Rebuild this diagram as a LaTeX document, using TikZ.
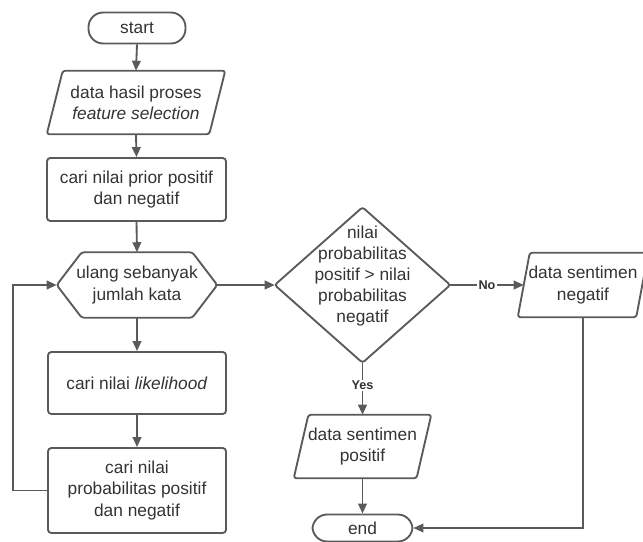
\documentclass[tikz,border=0pt]{standalone}
\usepackage{fontspec}
\setmainfont{Liberation Sans}
\usetikzlibrary{arrows.meta}
\definecolor{ln}{HTML}{5A5A5A}
\definecolor{tx}{HTML}{333333}
\newcommand\drawpara[2]{\draw[shp] ([xshift=#2]#1.north west) -- (#1.north east) -- ([xshift=-#2]#1.south east) -- (#1.south west) -- cycle;}
\newcommand\drawhex[2]{\draw[shp] (#1.west) -- ([xshift=#2]#1.north west) -- ([xshift=-#2]#1.north east) -- (#1.east) -- ([xshift=-#2]#1.south east) -- ([xshift=#2]#1.south west) -- cycle;}
\begin{document}
\begin{tikzpicture}[x=0.75pt,y=-0.75pt,
  every node/.style={font=\fontsize{13}{15.8}\selectfont, text=tx, align=center, inner sep=0pt},
  area/.style 2 args={minimum width={#1*0.75pt}, minimum height={#2*0.75pt}},
  shp/.style={draw=ln, line width=1.4pt, rounded corners=2pt},
  proc/.style={draw=ln, line width=1.4pt, rounded corners=2.5pt},
  term/.style={draw=ln, line width=1.4pt, rounded corners=11pt},
  arr/.style={draw=ln, line width=1.4pt, -{Triangle[length=7.5pt,width=6.5pt]}},
  lbl/.style={font=\fontsize{9.5}{10}\selectfont\bfseries, fill=white, inner sep=1pt}]
\useasboundingbox (0,0) rectangle (643,542);
% nodes
\node[term, area={97}{31}] (start) at (137,28) {start};
\node[area={178}{63}] (data) at (136,102.5) {data hasil proses\\\textit{feature selection}};
\node[proc, area={179}{63}] (prior) at (136.5,189.5) {cari nilai prior positif\\dan negatif};
\node[area={160}{65}] (hex) at (137,285) {ulang sebanyak\\jumlah kata};
\node[proc, area={178}{62}] (like) at (137,383) {cari nilai \textit{likelihood}};
\node[proc, area={178}{85}] (prob) at (137,490.5) {cari nilai\\probabilitas positif\\dan negatif};
\node[area={175}{155}] (dec) at (362.5,285) {};
\node (dectext) at (362.5,276) {nilai\\probabilitas\\positif > nilai\\probabilitas\\negatif};
\node[area={130}{64}] (neg) at (583,285) {data sentimen\\negatif};
\node[area={137}{63}] (pos) at (362.5,446.5) {data sentimen\\positif};
\node[term, area={100}{27}] (end) at (362.5,528) {end};
% outlines
\drawpara{data}{12pt}
\drawhex{hex}{18.75pt}
\draw[shp] (dec.west) -- (dec.north) -- (dec.east) -- (dec.south) -- cycle;
\drawpara{neg}{9pt}
\drawpara{pos}{11pt}
% connectors
\draw[arr] (start.south) -- (data.north);
\draw[arr] (data.south) -- (prior.north);
\draw[arr] (prior.south) -- (hex.north);
\draw[arr] (hex.south) -- (like.north);
\draw[arr] (like.south) -- (prob.north);
\draw[arr] (prob.west) -- ++(-34,0) |- (hex.west);
\draw[arr] (hex.east) -- (dec.west);
\draw[arr] (dec.east) -- node[lbl] {No} ([xshift=4.5pt]neg.west);
\draw[arr] (dec.south) -- node[lbl, pos=0.44] {Yes} (pos.north);
\draw[arr] (pos.south) -- (end.north);
\draw[arr] (neg.south) |- (end.east);
\end{tikzpicture}
\end{document}
